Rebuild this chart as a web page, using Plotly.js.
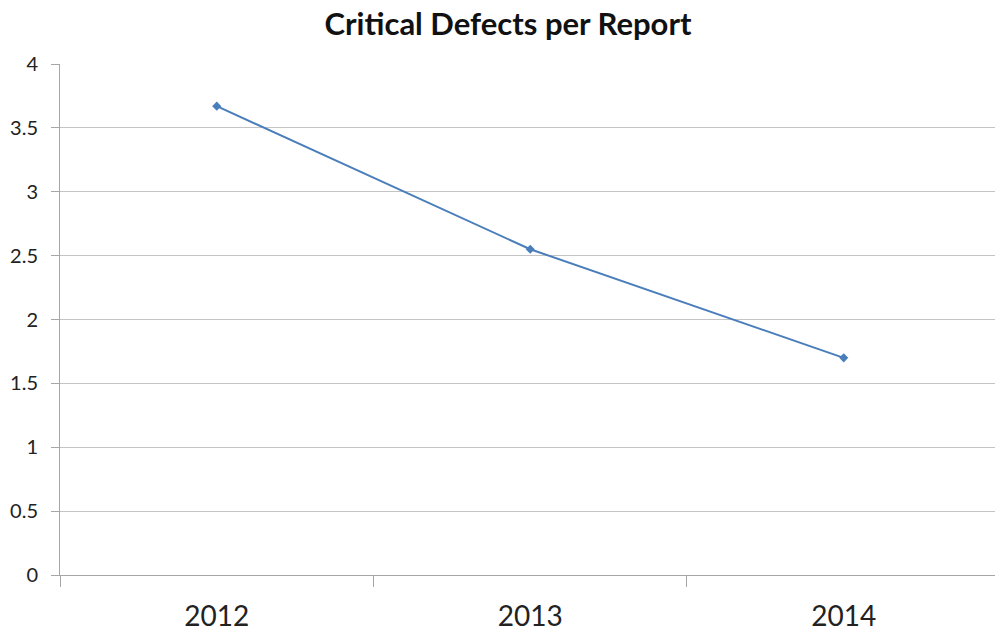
<!DOCTYPE html>
<html>
<head>
<meta charset="utf-8">
<script src="https://cdn.plot.ly/plotly-3.0.1.min.js"></script>
<style>html,body{margin:0;padding:0;background:#fff;}#chart{width:995px;height:635px;}</style>
</head>
<body>
<div id="chart"></div>
<script>
const years = ["2012", "2013", "2014"];
const defectsPerReport = [3.67, 2.55, 1.70];
const yTickVals = [0, 0.5, 1, 1.5, 2, 2.5, 3, 3.5, 4];
const yTickText = ["0", "0.5", "1", "1.5", "2", "2.5", "3", "3.5", "4"];

const trace = {
  x: years,
  y: defectsPerReport,
  type: "scatter",
  mode: "lines+markers",
  line: {color: "#4a7ebb", width: 2},
  marker: {symbol: "diamond", size: 7, color: "#4a7ebb"},
  hoverinfo: "x+y"
};

const layout = {
  width: 995, height: 635,
  paper_bgcolor: "#ffffff", plot_bgcolor: "#ffffff",
  margin: {l: 60, r: 0, t: 64, b: 60},
  showlegend: false,
  font: {family: "Lato, 'Open Sans', sans-serif", color: "#222"},
  title: {
    text: "<b>Critical Defects per Report</b>",
    font: {size: 31, color: "#111", family: "Lato, 'Open Sans', sans-serif"},
    x: 0.5106, xref: "container", xanchor: "center",
    y: 0.962, yref: "container", yanchor: "middle"
  },
  xaxis: {
    type: "category",
    range: [-0.5, 2.4825],
    tickson: "boundaries",
    ticks: "outside", ticklen: 11, tickcolor: "#a6a6a6", tickwidth: 1,
    showline: true, linecolor: "#a6a6a6", linewidth: 1,
    showgrid: false, zeroline: false,
    tickfont: {size: 28, color: "#222"},
    ticklabelstandoff: 16,
    fixedrange: true
  },
  yaxis: {
    range: [0, 4],
    tickvals: yTickVals, ticktext: yTickText,
    ticks: "outside", ticklen: 8, tickcolor: "#a6a6a6", tickwidth: 1,
    showline: true, linecolor: "#a6a6a6", linewidth: 1,
    showgrid: true, gridcolor: "#c4c4c4", gridwidth: 1,
    zeroline: false,
    tickfont: {size: 20, color: "#222"},
    ticklabelstandoff: 9,
    fixedrange: true
  }
};

Plotly.newPlot("chart", [trace], layout, {displayModeBar: false, staticPlot: true});
</script>
</body>
</html>
